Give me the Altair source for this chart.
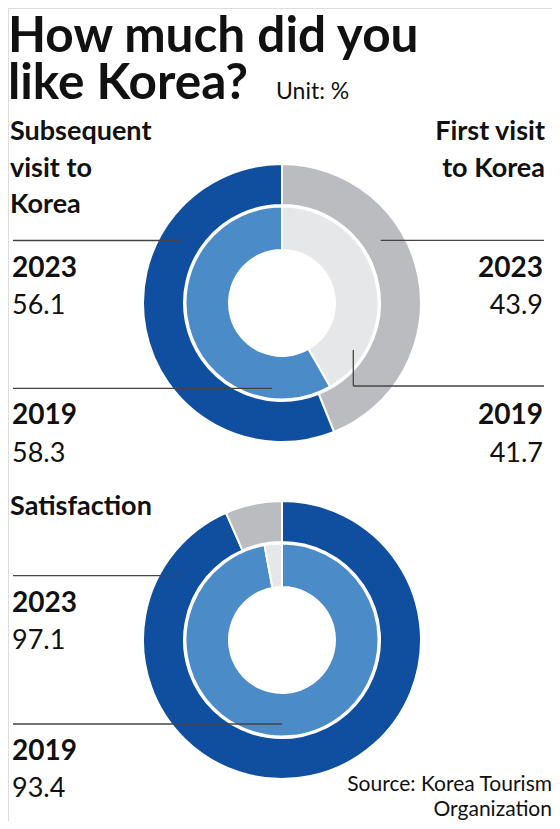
import altair as alt
import pandas as pd

# ---------------- data (unit: %) ----------------
years = ["2023", "2019"]
first_visit = [43.9, 41.7]        # 2023, 2019
subsequent_visit = [56.1, 58.3]   # 2023, 2019
satisfaction = [97.1, 93.4]       # 2023, 2019
# rings as drawn in the graphic (outer ring / inner ring of the satisfaction donut)
sat_outer_ring = [93.4, 6.6]
sat_inner_ring = [97.1, 2.9]

title_lines = ["How much did you", "like Korea?"]
unit_label = "Unit: %"
source_lines = ["Source: Korea Tourism", "Organization"]

# ---------------- styles ----------------
tones = ["dark", "mid", "grey", "light"]
tone_colors = ["#104EA0", "#4A8BC8", "#BBBCC0", "#E6E7E8"]
color_scale = alt.Scale(domain=tones, range=tone_colors)
FONT = "Lato"
INK = "#111111"
LINE = "#444444"


def ring_df(values, tone_list):
    return pd.DataFrame({"value": values, "tone": tone_list, "idx": list(range(len(values)))})


def ring(df, cx, cy, r_out, r_in):
    return alt.Chart(df).mark_arc(
        radius=r_out, radius2=r_in, stroke="white", strokeWidth=2
    ).encode(
        theta=alt.Theta("value:Q", stack=True),
        color=alt.Color("tone:N", scale=color_scale, legend=None),
        order=alt.Order("idx:Q"),
        x=alt.value(cx),
        y=alt.value(cy),
    )


def txt(s, x, y, size, weight="normal", align="left"):
    return alt.Chart(pd.DataFrame({"t": [s]})).mark_text(
        align=align, baseline="alphabetic", font=FONT, fontSize=size,
        fontWeight=weight, color=INK
    ).encode(text="t:N", x=alt.value(x), y=alt.value(y))


def rule(x1, x2, y1, y2):
    return alt.Chart(pd.DataFrame({"a": [0]})).mark_rule(
        color=LINE, strokeWidth=1.3
    ).encode(x=alt.value(x1), x2=alt.value(x2), y=alt.value(y1), y2=alt.value(y2))


# ---------------- donuts ----------------
TOP_C = (274, 295)
BOT_C = (274, 632)
R_OUT, R_MID_OUT, R_MID_IN, R_HOLE = 139, 98, 96.5, 53

layers = [
    ring(ring_df([first_visit[0], subsequent_visit[0]], ["grey", "dark"]), *TOP_C, R_OUT, R_MID_OUT),
    ring(ring_df([first_visit[1], subsequent_visit[1]], ["light", "mid"]), *TOP_C, R_MID_IN, R_HOLE),
    ring(ring_df(sat_outer_ring, ["dark", "grey"]), *BOT_C, R_OUT, R_MID_OUT),
    ring(ring_df(sat_inner_ring, ["mid", "light"]), *BOT_C, R_MID_IN, R_HOLE),
]

# ---------------- leader lines ----------------
layers += [
    rule(5, 174, 232.5, 232.5),
    rule(5, 264, 380.3, 380.3),
    rule(372.7, 536, 232.3, 232.3),
    rule(345.3, 345.3, 342, 378),
    rule(345.3, 536, 378, 378),
    rule(5, 174, 567.7, 567.7),
    rule(5, 274, 716, 716),
]

# ---------------- text ----------------
layers += [
    txt(title_lines[0], 0, 43.5, 49.5, "bold"),
    txt(title_lines[1], 0, 91, 49.5, "bold"),
    txt(unit_label, 268, 91, 23),
    txt("Subsequent", 2, 132, 27, "bold"),
    txt("visit to", 2, 168.7, 27, "bold"),
    txt("Korea", 2, 205, 27, "bold"),
    txt("First visit", 537, 132, 27, "bold", "right"),
    txt("to Korea", 537, 168.7, 27, "bold", "right"),
    txt(years[0], 4, 268.7, 28, "bold"),
    txt(f"{subsequent_visit[0]}", 4, 306.4, 27),
    txt(years[1], 4, 416, 28, "bold"),
    txt(f"{subsequent_visit[1]}", 4, 453.7, 27),
    txt(years[0], 535, 268.7, 28, "bold", "right"),
    txt(f"{first_visit[0]}", 535, 306.4, 27, "normal", "right"),
    txt(years[1], 535, 416, 28, "bold", "right"),
    txt(f"{first_visit[1]}", 535, 453.7, 27, "normal", "right"),
    txt("Satisfaction", 2, 507, 27, "bold"),
    txt(years[0], 4, 603.7, 28, "bold"),
    txt(f"{satisfaction[0]}", 4, 641, 27),
    txt(years[1], 4, 752, 28, "bold"),
    txt(f"{satisfaction[1]}", 4, 789.3, 27),
    txt(source_lines[0], 544, 783, 21, "normal", "right"),
    txt(source_lines[1], 544, 808, 21, "normal", "right"),
]

chart = alt.layer(*layers).properties(
    width=544, height=813, padding=0, autosize=alt.AutoSizeParams(type="none")
).configure_view(stroke=None).configure(background="white")

chart.save("out.html", embed_options={"renderer": "svg", "actions": False})
